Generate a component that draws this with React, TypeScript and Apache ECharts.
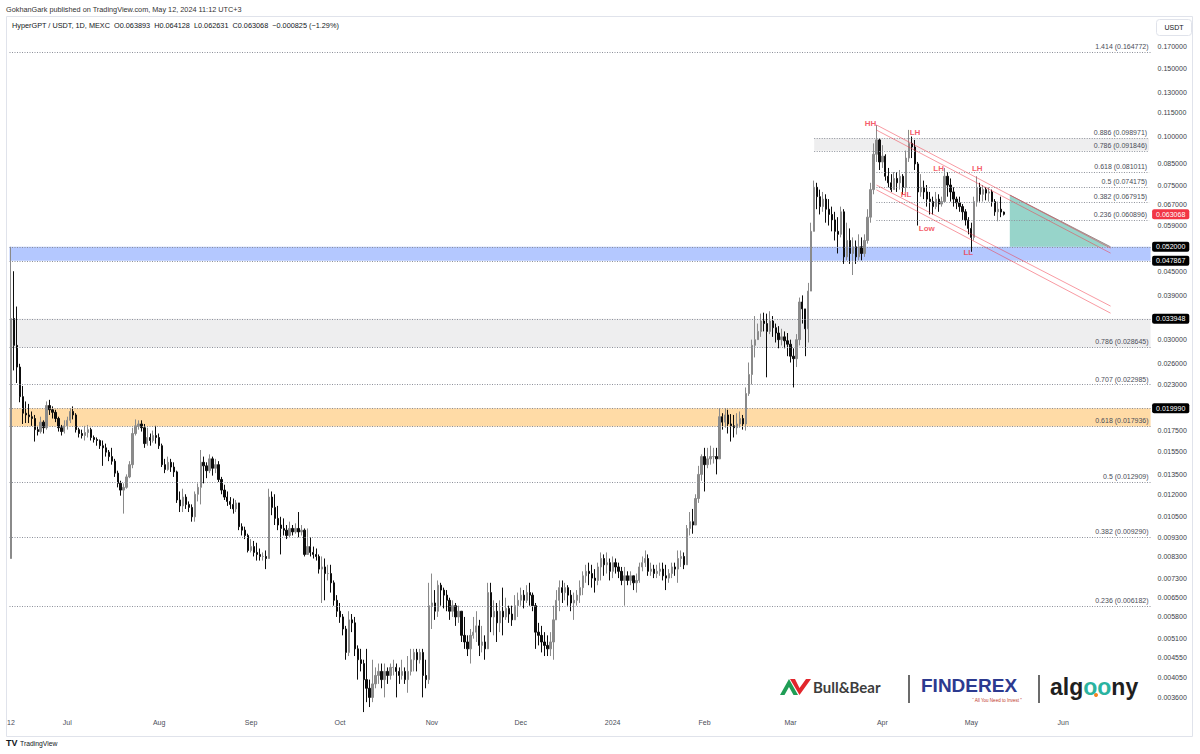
import React, { useEffect, useRef } from "react";
import * as echarts from "echarts";

// ---------- data ----------
const firstOpen = 0.0082;
// daily candles, each [close, high, low]; open = previous close
const jun2023 = [
  [0.034, 0.052, 0.0082], [0.029, 0.045, 0.025], [0.0255, 0.0365, 0.0232], [0.0214, 0.026, 0.0207], [0.0194, 0.0228, 0.0182],
  [0.0192, 0.0208, 0.0183], [0.019, 0.0205, 0.0183], [0.0188, 0.0196, 0.018], [0.0176, 0.0192, 0.0164], [0.0174, 0.018, 0.017],
  [0.0184, 0.019, 0.0172], [0.0178, 0.0186, 0.0172], [0.0203, 0.0208, 0.0176], [0.0198, 0.021, 0.0192], [0.0195, 0.0202, 0.0188],
  [0.0188, 0.0198, 0.0184], [0.0178, 0.019, 0.0174], [0.0174, 0.0181, 0.017], [0.018, 0.0186, 0.0172],
];
const jul2023 = [
  [0.0186, 0.019, 0.0176], [0.0196, 0.02, 0.0183], [0.0192, 0.0202, 0.0187], [0.0176, 0.0194, 0.0173], [0.0172, 0.0178, 0.0168],
  [0.017, 0.0176, 0.0167], [0.0173, 0.018, 0.0165], [0.0176, 0.0181, 0.0168], [0.0168, 0.0178, 0.0165], [0.0166, 0.017, 0.0163],
  [0.0165, 0.0168, 0.016], [0.016, 0.0166, 0.0157], [0.0158, 0.0165, 0.0142], [0.0154, 0.0162, 0.015], [0.015, 0.0156, 0.0146],
  [0.0146, 0.0158, 0.0143], [0.0136, 0.0148, 0.0133], [0.0128, 0.0138, 0.0125], [0.0123, 0.013, 0.0119], [0.0125, 0.0128, 0.0107],
  [0.0133, 0.0135, 0.0124], [0.0143, 0.0146, 0.0132], [0.0172, 0.0178, 0.014], [0.018, 0.0187, 0.017], [0.0182, 0.0186, 0.0176],
  [0.0178, 0.0186, 0.0174], [0.0162, 0.0182, 0.0158], [0.0168, 0.0178, 0.016], [0.0165, 0.0172, 0.016], [0.017, 0.0175, 0.0163],
  [0.0168, 0.018, 0.0162],
];
const aug2023 = [
  [0.016, 0.0172, 0.0157], [0.0143, 0.0162, 0.0141], [0.0139, 0.0148, 0.0136], [0.0145, 0.015, 0.0138], [0.0141, 0.0148, 0.0137],
  [0.0137, 0.0145, 0.0133], [0.0116, 0.0138, 0.0114], [0.0112, 0.0122, 0.0108], [0.0118, 0.0124, 0.0108], [0.0113, 0.012, 0.011],
  [0.0111, 0.0115, 0.0108], [0.0105, 0.0113, 0.0102], [0.012, 0.0122, 0.0102], [0.0125, 0.0128, 0.0115], [0.0145, 0.0156, 0.0113],
  [0.0142, 0.015, 0.0128], [0.0138, 0.0145, 0.0132], [0.0148, 0.0152, 0.0136], [0.014, 0.015, 0.0134], [0.0143, 0.0148, 0.0136],
  [0.0131, 0.0146, 0.0129], [0.0123, 0.0133, 0.012], [0.0118, 0.0127, 0.0116], [0.0115, 0.0122, 0.0112], [0.0113, 0.0118, 0.011],
  [0.011, 0.0117, 0.0107], [0.0114, 0.0116, 0.0108], [0.0099, 0.0114, 0.0097], [0.0097, 0.0101, 0.0094], [0.0094, 0.0099, 0.0092],
  [0.0086, 0.0095, 0.0085],
];
const sep2023 = [
  [0.0088, 0.0092, 0.0085], [0.0085, 0.0091, 0.0083], [0.0084, 0.009, 0.0081], [0.0083, 0.0087, 0.0081], [0.0083, 0.0085, 0.0081],
  [0.0082, 0.0086, 0.0077], [0.0118, 0.0124, 0.0082], [0.0111, 0.0122, 0.0106], [0.0104, 0.012, 0.01], [0.01, 0.0112, 0.0097],
  [0.0098, 0.0105, 0.0084], [0.0097, 0.0104, 0.0094], [0.0094, 0.01, 0.0092], [0.0098, 0.0102, 0.0093], [0.0096, 0.01, 0.0094],
  [0.0098, 0.0101, 0.0095], [0.0096, 0.0108, 0.0093], [0.0097, 0.01, 0.0094], [0.0084, 0.0098, 0.0083], [0.0088, 0.0098, 0.0084],
  [0.0085, 0.0093, 0.0083], [0.0084, 0.0088, 0.0082], [0.0083, 0.0087, 0.0081], [0.0077, 0.0084, 0.0075], [0.0078, 0.0083, 0.0063],
  [0.0075, 0.0082, 0.0064], [0.0075, 0.0079, 0.0072], [0.0071, 0.0079, 0.0067], [0.0064, 0.0072, 0.0062], [0.006, 0.0066, 0.0058],
];
const oct2023 = [
  [0.0058, 0.0063, 0.0056], [0.0054, 0.0059, 0.0052], [0.0047, 0.0055, 0.0045], [0.0057, 0.006, 0.0046], [0.0056, 0.0059, 0.0053],
  [0.0048, 0.0058, 0.0046], [0.0045, 0.0049, 0.004], [0.0044, 0.0048, 0.0042], [0.004, 0.0045, 0.0033], [0.0038, 0.0048, 0.0035],
  [0.0036, 0.004, 0.0034], [0.0039, 0.0045, 0.0035], [0.0041, 0.0043, 0.0038], [0.0042, 0.0044, 0.0039], [0.004, 0.0044, 0.0038],
  [0.0042, 0.0044, 0.0036], [0.0041, 0.0043, 0.0039], [0.0043, 0.0044, 0.004], [0.0043, 0.0045, 0.0041], [0.0042, 0.0044, 0.0036],
  [0.0041, 0.0043, 0.0039], [0.0042, 0.0045, 0.004], [0.004, 0.0043, 0.0039], [0.0042, 0.0046, 0.0037], [0.0045, 0.0048, 0.0041],
  [0.0047, 0.0048, 0.0042], [0.0045, 0.0048, 0.0042], [0.0047, 0.0048, 0.0044], [0.0041, 0.0048, 0.0036], [0.004, 0.0045, 0.0038],
  [0.0062, 0.0071, 0.0039],
];
const nov2023 = [
  [0.0063, 0.0075, 0.0054], [0.006, 0.0068, 0.0057], [0.007, 0.0072, 0.0058], [0.0068, 0.0071, 0.0062], [0.0066, 0.0069, 0.0061],
  [0.0064, 0.0068, 0.006], [0.006, 0.0065, 0.0057], [0.0062, 0.0064, 0.0058], [0.0058, 0.0063, 0.0055], [0.006, 0.0062, 0.0056],
  [0.0052, 0.006, 0.005], [0.005, 0.0058, 0.0048], [0.0048, 0.0052, 0.0046], [0.0052, 0.0054, 0.0044], [0.0053, 0.0058, 0.0051],
  [0.0055, 0.006, 0.005], [0.0049, 0.0057, 0.0046], [0.005, 0.0055, 0.0047], [0.0048, 0.0052, 0.0045], [0.0067, 0.0071, 0.0048],
  [0.0058, 0.0071, 0.0053], [0.006, 0.0064, 0.0052], [0.0056, 0.0063, 0.005], [0.006, 0.0064, 0.0053], [0.0058, 0.0069, 0.0052],
  [0.0061, 0.0065, 0.0057], [0.0059, 0.0062, 0.0056], [0.0057, 0.0062, 0.0055], [0.0062, 0.0066, 0.0057], [0.0064, 0.0067, 0.0058],
];
const dec2023 = [
  [0.0066, 0.0069, 0.0062], [0.0064, 0.0068, 0.0061], [0.0067, 0.007, 0.0063], [0.0066, 0.0071, 0.0062], [0.0062, 0.0067, 0.006],
  [0.0053, 0.0063, 0.0048], [0.0052, 0.0056, 0.0049], [0.005, 0.0055, 0.0047], [0.0049, 0.0053, 0.0046], [0.0048, 0.0052, 0.0046],
  [0.005, 0.0053, 0.0046], [0.0057, 0.0062, 0.0045], [0.0064, 0.0068, 0.0057], [0.0069, 0.0072, 0.006], [0.0067, 0.0072, 0.0063],
  [0.0069, 0.0071, 0.0064], [0.0066, 0.007, 0.0062], [0.0063, 0.0068, 0.006], [0.0064, 0.0067, 0.0057], [0.0066, 0.0068, 0.0062],
  [0.0069, 0.0072, 0.0063], [0.0074, 0.0076, 0.0066], [0.0076, 0.0079, 0.0071], [0.0075, 0.008, 0.007], [0.0073, 0.0079, 0.0069],
  [0.0072, 0.0077, 0.0067], [0.0078, 0.008, 0.007], [0.0082, 0.0085, 0.0072], [0.0079, 0.0084, 0.0074], [0.008, 0.0085, 0.0075],
  [0.0076, 0.0082, 0.0072],
];
const jan2024 = [
  [0.008, 0.0083, 0.0073], [0.0078, 0.0082, 0.0075], [0.0076, 0.008, 0.0073], [0.0072, 0.0078, 0.007], [0.0074, 0.0078, 0.0062],
  [0.0072, 0.0076, 0.007], [0.0074, 0.0076, 0.007], [0.0071, 0.0074, 0.0068], [0.0072, 0.0075, 0.0067], [0.0078, 0.008, 0.0071],
  [0.008, 0.0083, 0.0076], [0.0082, 0.0086, 0.0078], [0.0076, 0.0084, 0.0074], [0.0077, 0.008, 0.0074], [0.0075, 0.0079, 0.0073],
  [0.0076, 0.0079, 0.0073], [0.0077, 0.008, 0.0074], [0.0074, 0.008, 0.0072], [0.0073, 0.0079, 0.0068], [0.0075, 0.0077, 0.0071],
  [0.0078, 0.008, 0.0073], [0.0077, 0.008, 0.0074], [0.0082, 0.0086, 0.0071], [0.0083, 0.0086, 0.0078], [0.0079, 0.0085, 0.0077],
  [0.0098, 0.01, 0.008], [0.0102, 0.0108, 0.0094], [0.01, 0.011, 0.0095], [0.0117, 0.012, 0.01], [0.0135, 0.0142, 0.0114],
  [0.015, 0.0152, 0.013],
];
const feb2024 = [
  [0.0143, 0.0158, 0.0122], [0.0148, 0.0158, 0.014], [0.015, 0.016, 0.0143], [0.015, 0.0158, 0.0144], [0.0148, 0.0158, 0.0135],
  [0.019, 0.02, 0.015], [0.0184, 0.0194, 0.0176], [0.0192, 0.02, 0.0178], [0.0182, 0.0198, 0.0172], [0.018, 0.0193, 0.0164],
  [0.0178, 0.0192, 0.0168], [0.0182, 0.0194, 0.0171], [0.0188, 0.0196, 0.0178], [0.0182, 0.0192, 0.0176], [0.0218, 0.0226, 0.0175],
  [0.0244, 0.0262, 0.0215], [0.029, 0.03, 0.023], [0.03, 0.0345, 0.027], [0.0315, 0.033, 0.03], [0.0335, 0.035, 0.0305],
  [0.033, 0.0352, 0.0315], [0.0315, 0.035, 0.024], [0.0335, 0.0355, 0.031], [0.0322, 0.0345, 0.0305], [0.0312, 0.033, 0.0295],
  [0.03, 0.0325, 0.0285], [0.0305, 0.032, 0.029], [0.0298, 0.0315, 0.0285], [0.0292, 0.0312, 0.0272],
];
const mar2024 = [
  [0.0272, 0.03, 0.0262], [0.0268, 0.0285, 0.0226], [0.03, 0.031, 0.0255], [0.0375, 0.0385, 0.029], [0.036, 0.039, 0.033],
  [0.032, 0.035, 0.0272], [0.04, 0.042, 0.0295], [0.057, 0.06, 0.04], [0.074, 0.077, 0.057], [0.07, 0.076, 0.065],
  [0.066, 0.073, 0.063], [0.069, 0.072, 0.064], [0.065, 0.071, 0.06], [0.063, 0.069, 0.059], [0.061, 0.066, 0.057],
  [0.057, 0.064, 0.054], [0.056, 0.062, 0.05], [0.064, 0.066, 0.055], [0.049, 0.065, 0.047], [0.054, 0.06, 0.048],
  [0.05, 0.058, 0.047], [0.052, 0.055, 0.044], [0.049, 0.054, 0.047], [0.052, 0.056, 0.048], [0.05, 0.055, 0.048],
  [0.054, 0.056, 0.049], [0.062, 0.065, 0.053], [0.073, 0.076, 0.06], [0.09, 0.096, 0.071], [0.098, 0.107, 0.086],
  [0.086, 0.099, 0.082],
];
const apr2024 = [
  [0.089, 0.095, 0.083], [0.079, 0.09, 0.077], [0.076, 0.083, 0.074], [0.073, 0.08, 0.072], [0.078, 0.081, 0.073],
  [0.076, 0.081, 0.072], [0.079, 0.082, 0.073], [0.074, 0.08, 0.071], [0.088, 0.092, 0.072], [0.096, 0.104, 0.086],
  [0.094, 0.1, 0.088], [0.085, 0.098, 0.082], [0.072, 0.086, 0.059], [0.074, 0.08, 0.07], [0.072, 0.077, 0.069],
  [0.069, 0.075, 0.066], [0.068, 0.072, 0.063], [0.066, 0.07, 0.063], [0.069, 0.072, 0.065], [0.067, 0.071, 0.064],
  [0.068, 0.07, 0.066], [0.079, 0.083, 0.068], [0.075, 0.081, 0.07], [0.072, 0.078, 0.068], [0.069, 0.074, 0.066],
  [0.0675, 0.07, 0.065], [0.066, 0.07, 0.064], [0.064, 0.067, 0.061], [0.061, 0.065, 0.059], [0.058, 0.062, 0.056],
];
const may2024 = [
  [0.055, 0.06, 0.0505], [0.068, 0.07, 0.054], [0.074, 0.079, 0.066], [0.071, 0.076, 0.068], [0.073, 0.075, 0.068],
  [0.0715, 0.074, 0.0685], [0.072, 0.074, 0.068], [0.068, 0.073, 0.066], [0.064, 0.069, 0.0625], [0.065, 0.068, 0.0605],
  [0.063893, 0.07, 0.062], [0.063068, 0.064128, 0.062631],
];
const monthlyCandles = [jun2023, jul2023, aug2023, sep2023, oct2023, nov2023, dec2023, jan2024, feb2024, mar2024, apr2024, may2024];

const firstTickLabel = "12";
const monthTicks = ["2023-07-01", "2023-08-01", "2023-09-01", "2023-10-01", "2023-11-01", "2023-12-01", "2024-01-01", "2024-02-01", "2024-03-01", "2024-04-01", "2024-05-01", "2024-06-01"];
const monthTickLabels = ["Jul", "Aug", "Sep", "Oct", "Nov", "Dec", "2024", "Feb", "Mar", "Apr", "May", "Jun"];

const yTickValues = [0.17, 0.15, 0.13, 0.115, 0.1, 0.085, 0.075, 0.067, 0.059, 0.045, 0.039, 0.03, 0.026, 0.023, 0.0175, 0.0155, 0.0135, 0.012, 0.0105, 0.0093, 0.0083, 0.0073, 0.0065, 0.0058, 0.0051, 0.00455, 0.00405, 0.0036];
const lastPrice = 0.063068;
const taggedLevels = [0.052, 0.047867, 0.033948, 0.01999];

const blueZone = [0.047867, 0.052];
const grayZone = [0.028645, 0.033948];
const orangeZone = [0.017936, 0.01999];
const upperZone: [string, number, number] = ["2024-03-09", 0.091846, 0.098971];

const fibFullWidth: [string, number][] = [["1.414", 0.164772], ["0.786", 0.028645], ["0.707", 0.022985], ["0.618", 0.017936], ["0.5", 0.012909], ["0.382", 0.00929], ["0.236", 0.006182]];
const fibFromZone: [string, number][] = [["0.886", 0.098971], ["0.786", 0.091846]];
const fibFromHigh: [string, number][] = [["0.618", 0.081011], ["0.5", 0.074175], ["0.382", 0.067915], ["0.236", 0.060896]];
const fibZoneStart = "2024-03-09";
const fibHighStart = "2024-03-30";

const channelLines: [string, number, string, number][] = [
  ["2024-03-30", 0.1071, "2024-06-17", 0.0516],
  ["2024-03-30", 0.1039, "2024-06-17", 0.0501],
  ["2024-03-30", 0.075, "2024-06-17", 0.0366],
  ["2024-03-30", 0.0729, "2024-06-17", 0.0351],
];
const targetTriangle: [string, number][] = [["2024-05-14", 0.0707], ["2024-05-14", 0.052], ["2024-06-17", 0.052]];
const patternLabels: [string, number, string][] = [
  ["2024-03-28", 0.1077, "HH"], ["2024-04-12", 0.1027, "LH"], ["2024-04-09", 0.0711, "HL"], ["2024-04-16", 0.0581, "Low"],
  ["2024-04-20", 0.0825, "LH"], ["2024-05-03", 0.0825, "LH"], ["2024-04-30", 0.0504, "LL"],
];

const headerText = "GokhanGark published on TradingView.com, May 12, 2024 11:12 UTC+3";
const legendText = "HyperGPT / USDT, 1D, MEXC  O0.063893  H0.064128  L0.062631  C0.063068  \u22120.000825 (\u22121.29%)";

// ---------- helpers ----------
const categoryCount = 385;
const categories: string[] = Array.from({ length: categoryCount }, (_, i) =>
  new Date(Date.UTC(2023, 5, 12) + i * 86400000).toISOString().slice(0, 10)
);
const lastCat = categories[categories.length - 1];

const rows = monthlyCandles.flat();
let prevClose = firstOpen;
const candleData = rows.map(([c, h, l]) => {
  const o = prevClose;
  prevClose = c;
  return [o, c, Math.min(l, o, c), Math.max(h, o, c)];
});

const FONT = "'Liberation Sans', Arial, sans-serif";
const dotted = { color: "#8d909a", width: 1, type: [1, 1.5] as any };
const fibLabel = (name: string, v: number) => ({
  show: true, position: "insideEndTop", formatter: `${name} (${v.toFixed(6)})`,
  color: "#4a4d57", fontSize: 7, fontFamily: FONT, distance: 2,
});

const markLineData: any[] = [];
yTickValues.forEach((v) => {
  markLineData.push({
    yAxis: v,
    lineStyle: { color: "rgba(0,0,0,0)", width: 0 },
    label: { show: true, position: "end", distance: 7, formatter: v.toFixed(6), color: "#3b3e48", fontSize: 7, fontFamily: FONT },
  });
});
fibFullWidth.forEach(([n, v]) => markLineData.push({ yAxis: v, lineStyle: dotted, label: fibLabel(n, v) }));
fibFromZone.forEach(([n, v]) =>
  markLineData.push([{ coord: [fibZoneStart, v], lineStyle: dotted, label: fibLabel(n, v) }, { coord: [lastCat, v], lineStyle: dotted, label: fibLabel(n, v) }])
);
fibFromHigh.forEach(([n, v]) =>
  markLineData.push([{ coord: [fibHighStart, v], lineStyle: dotted, label: fibLabel(n, v) }, { coord: [lastCat, v], lineStyle: dotted, label: fibLabel(n, v) }])
);
const tagLabel = (v: number, bg: string) => ({
  show: true, position: "end", distance: 1.5, formatter: v.toFixed(6), color: "#ffffff", backgroundColor: bg,
  padding: [2, 4, 1, 4], borderRadius: 2, fontSize: 7, fontFamily: FONT,
});
taggedLevels.forEach((v) => markLineData.push({ yAxis: v, lineStyle: dotted, label: tagLabel(v, "#000000") }));
markLineData.push({ yAxis: lastPrice, lineStyle: { color: "rgba(0,0,0,0)", width: 0 }, label: tagLabel(lastPrice, "#f23645") });
channelLines.forEach(([d1, v1, d2, v2]) => {
  const ls = { color: "rgba(242,54,69,0.5)", width: 1, type: "solid" };
  markLineData.push([{ coord: [d1, v1], lineStyle: ls, label: { show: false } }, { coord: [d2, v2], lineStyle: ls, label: { show: false } }]);
});

const txt = (x: number, y: number, text: string, extra: any = {}) => ({
  type: "text", x, y, silent: true, z: 100,
  style: {
    text, fill: extra.fill || "#2a2e39", fontSize: extra.fontSize || 7.5, fontFamily: extra.fontFamily || FONT,
    fontWeight: extra.fontWeight || "normal", textAlign: extra.align || "left", align: extra.align || "left",
    textVerticalAlign: "middle", verticalAlign: "middle", rich: extra.rich,
  },
});

const graphics: any[] = [
  { type: "rect", silent: true, z: 0, shape: { x: 6.5, y: 16.5, width: 1186, height: 720 }, style: { fill: "none", stroke: "#e0e3eb", lineWidth: 1 } },
  txt(6, 9, headerText, { fill: "#333333", fontSize: 7.3 }),
  txt(12, 25, legendText, { fill: "#131722", fontSize: 7.3 }),
  { type: "rect", silent: true, z: 100, shape: { x: 1156.5, y: 19.5, width: 35, height: 16, r: 3 }, style: { fill: "#ffffff", stroke: "#e0e3eb", lineWidth: 1 } },
  txt(1174, 27.5, "USDT", { fill: "#131722", fontSize: 7, align: "center" }),
  // Bull&Bear logo
  { type: "polygon", silent: true, z: 100, shape: { points: [[780, 695], [789, 679], [798, 695], [793.5, 695], [789, 687], [784.5, 695]] }, style: { fill: "#1f9d55" } },
  { type: "polygon", silent: true, z: 100, shape: { points: [[790, 679], [795, 679], [799.5, 688], [806, 679], [811, 679], [799.5, 695]] }, style: { fill: "#e2262c" } },
  txt(813, 687, "Bull&Bear", { fill: "#3d3d3d", fontSize: 15, fontWeight: "bold", fontFamily: "Lato, 'Liberation Sans', sans-serif" }),
  { type: "line", silent: true, z: 100, shape: { x1: 909, y1: 675, x2: 909, y2: 703 }, style: { stroke: "#3a3a3a", lineWidth: 1.5 } },
  txt(921, 685, "FINDEREX", { fill: "#2c3a8f", fontSize: 19, fontWeight: "bold" }),
  txt(997, 700, "\u201c All You Need to Invest \u201d", { fill: "#c0392b", fontSize: 4.5, align: "center" }),
  { type: "line", silent: true, z: 100, shape: { x1: 1039, y1: 675, x2: 1039, y2: 703 }, style: { stroke: "#3a3a3a", lineWidth: 1.5 } },
  txt(1050, 687, "{d|alg}{t|o}{t|o}{d|ny}", {
    fontSize: 23, fontWeight: "bold",
    rich: {
      d: { fill: "#1f1f1f", fontSize: 23, fontWeight: "bold", fontFamily: FONT },
      t: { fill: "#2ab3a0", fontSize: 23, fontWeight: "bold", fontFamily: FONT },
    },
  }),
  { type: "circle", silent: true, z: 101, shape: { cx: 1096, cy: 695, r: 2 }, style: { fill: "#f5841f" } },
  // TradingView footer
  txt(6, 743, "TV", { fill: "#131722", fontSize: 9, fontWeight: "bold" }),
  txt(20, 743, "TradingView", { fill: "#131722", fontSize: 6.8 }),
];

const option: any = {
  animation: false,
  backgroundColor: "#ffffff",
  grid: { left: 9.5, right: 49.4, top: 16, bottom: 40, containLabel: false },
  xAxis: {
    type: "category",
    data: categories,
    boundaryGap: true,
    axisLine: { show: false },
    axisTick: { show: false },
    splitLine: { show: false },
    axisLabel: {
      interval: (idx: number, val: string) => idx === 0 || monthTicks.indexOf(val) >= 0,
      formatter: (val: string, idx: number) => (idx === 0 ? firstTickLabel : monthTickLabels[monthTicks.indexOf(val)] || ""),
      color: "#4a4d57",
      fontSize: 7,
      fontFamily: FONT,
      margin: 5,
    },
  },
  yAxis: {
    type: "log",
    logBase: 10,
    min: 0.0032627,
    max: 0.20425,
    position: "right",
    axisLine: { show: false },
    axisTick: { show: false },
    axisLabel: { show: false },
    splitLine: { show: false },
  },
  graphic: graphics,
  series: [
    {
      type: "candlestick",
      data: candleData,
      barWidth: 1.8,
      clip: false,
      silent: true,
      itemStyle: { color: "#8a8a8a", color0: "#0d0d0d", borderColor: "#8a8a8a", borderColor0: "#0d0d0d", borderWidth: 1 },
      markArea: {
        silent: true,
        precision: 8,
        label: { show: false },
        data: [
          [{ yAxis: blueZone[0], itemStyle: { color: "rgba(41,98,255,0.35)" } }, { yAxis: blueZone[1] }],
          [{ yAxis: grayZone[0], itemStyle: { color: "rgba(120,123,134,0.13)" } }, { yAxis: grayZone[1] }],
          [{ yAxis: orangeZone[0], itemStyle: { color: "rgba(255,152,0,0.35)" } }, { yAxis: orangeZone[1] }],
          [{ coord: [upperZone[0], upperZone[1]], itemStyle: { color: "rgba(120,123,134,0.13)" } }, { coord: [lastCat, upperZone[2]] }],
        ],
      },
      markLine: {
        silent: true,
        precision: 8,
        symbol: ["none", "none"],
        label: { show: false },
        data: markLineData,
      },
    },
    {
      type: "custom",
      silent: true,
      clip: false,
      z: 3,
      data: [[targetTriangle[0][0], targetTriangle[0][1]]],
      renderItem: (_params: any, api: any) => {
        const pts = targetTriangle.map(([d, v]) => api.coord([categories.indexOf(d), v]));
        return {
          type: "group",
          children: [
            { type: "polygon", shape: { points: pts }, style: { fill: "rgba(8,153,129,0.42)" } },
            { type: "line", shape: { x1: pts[0][0], y1: pts[0][1], x2: pts[2][0], y2: pts[2][1] }, style: { stroke: "#a08c8c", lineWidth: 1 } },
          ],
        };
      },
    },
    {
      type: "scatter",
      silent: true,
      z: 6,
      symbol: "circle",
      symbolSize: 1,
      itemStyle: { color: "rgba(0,0,0,0)" },
      data: patternLabels.map(([d, v, t]) => ({ value: [d, v], name: t })),
      label: { show: true, position: "inside", formatter: "{b}", color: "#f23645", fontSize: 8, fontWeight: "bold", fontFamily: FONT },
    },
  ],
};

export default function App() {
  const ref = useRef<HTMLDivElement>(null);
  useEffect(() => {
    if (!ref.current) return;
    const chart = echarts.init(ref.current, null, { renderer: "svg" });
    chart.setOption(option);
    return () => chart.dispose();
  }, []);
  return (
    <div
      ref={ref}
      style={{ position: "fixed", left: 0, top: 0, width: 1200, height: 754, background: "#ffffff" }}
    />
  );
}
